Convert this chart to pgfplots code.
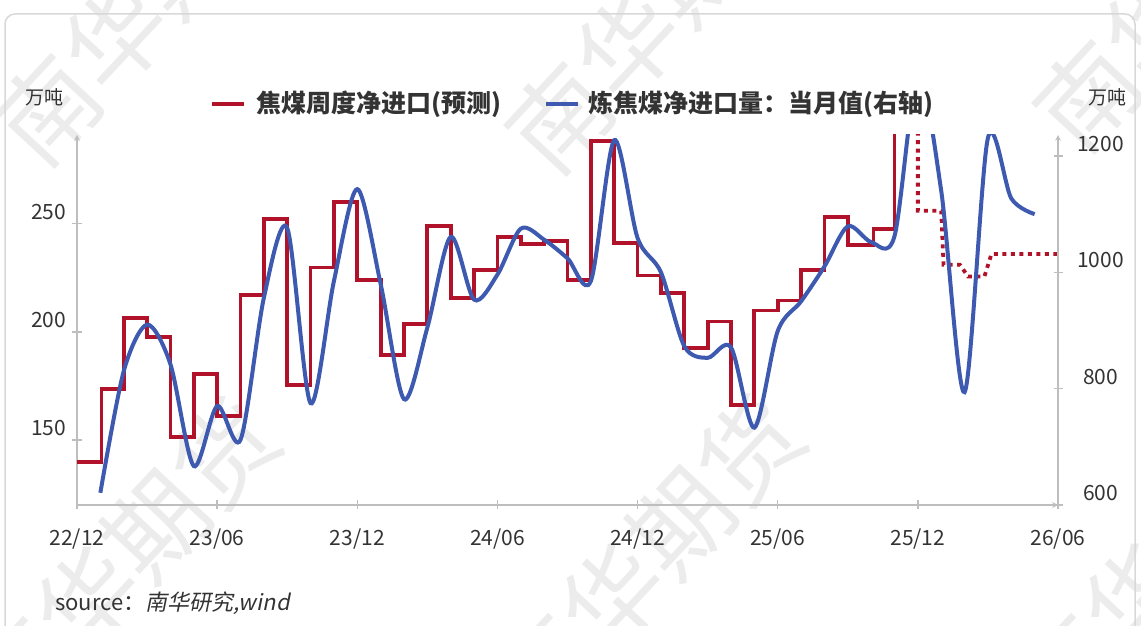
\documentclass[border=0pt]{standalone}
\usepackage{fontspec}
\setmainfont{Noto Sans CJK SC}
\newfontfamily\slantcjk{Noto Sans CJK SC}[FakeSlant=0.2]
\usepackage{pgfplots}
\pgfplotsset{compat=1.18}

\definecolor{nhred}{RGB}{176,18,42}
\definecolor{nhblue}{RGB}{62,90,176}
\definecolor{txt}{RGB}{51,51,51}
\definecolor{axgray}{RGB}{190,190,190}
\definecolor{wmark}{RGB}{236,236,236}

% 焦煤周度净进口(预测), 万吨, 左轴
\pgfplotstableread{
m v
0 140
1.05 173.6
2 206.6
3 197.8
4 151.5
5 180.4
6 161.3
7 217.1
8 252.2
9 175.5
10 229.8
11 260
12 224
13 189.4
14 203.7
15 249.1
16 215.6
17 228.7
18 243.8
19 240.7
20 242.1
21 224.1
22 288.1
23 241.1
24 226.1
25 217.9
26 192.4
27 204.8
28 166.2
29 209.9
30 214.5
31 228.7
32 253.1
33 240
34.1 247.7
35 320
36 320
}\weekly

% 预测段
\pgfplotstableread{
m v
36 320
36 256
37 256
37.1 231
37.8 231
38.15 225.6
38.85 225.6
39.15 236
42 236
}\forecast

% 炼焦煤净进口量: 当月值, 万吨, 右轴
\pgfplotstableread{
m v
1 621
2 830
3 910
4 842
5 667
6 770
7 712
8 956
9 1076
10 775
11 985
12 1143
13 980
14 782
15 905
16 1061
17 953
18 996
19 1075
20 1056
21 1024
22 985
23 1227
24 1059
25 1000
26 873
27 853
28 871
29 733
30 899
31 950
32 1010
33 1079
34 1052
35 1062
36 1340
37 1140
38 794
39 1231
40 1127
41 1100
}\monthly

\pgfplotsset{
  base/.style={
    at={(77pt,121pt)}, anchor=south west,
    width=981pt, height=370pt, scale only axis,
    xmin=0, xmax=42,
    axis line style={draw=axgray, line width=1.5pt, -},
    tick style={draw=axgray, line width=1.3pt},
    major tick length=9pt, tick align=inside,
    ticklabel style={font=\fontsize{21}{21}\selectfont, text=txt},
    /pgf/number format/assume math mode=true,
    /pgf/number format/1000 sep={},
  }
}

\begin{document}
\begin{tikzpicture}
\path[use as bounding box] (0pt,0pt) rectangle (1141pt,626pt);
% watermark
\begin{scope}[every node/.style={text=wmark, rotate=47, font=\fontsize{100}{100}\selectfont}]
\node at (150pt,626pt) {南华期货};
\node at (662pt,618pt) {南华期货};
\node at (1190pt,640pt) {南华期货};
\node at (122pt,63pt) {南华期货};
\node at (647pt,66pt) {南华期货};
\node at (1170pt,66pt) {南华期货};
\end{scope}
\draw[axgray!60, line width=1.5pt, rounded corners=10pt] (5pt,-12pt) -- (5pt,612pt) -- (1135pt,612pt) -- (1135pt,-12pt);

\begin{axis}[base,
  axis x line=bottom, axis y line=left,
  ymin=120, ymax=291,
  ytick={150,200,250},
  xtick={0,6,...,42},
  xticklabels={22/12,23/06,23/12,24/06,24/12,25/06,25/12,26/06},
  xticklabel style={yshift=-16pt},
  yticklabel style={yshift=12pt, xshift=-3pt},
]
\addplot[const plot, nhred, line width=3.8pt] table[x=m, y=v] {\weekly};
\addplot[nhred, line width=3.8pt, dash pattern=on 4pt off 4.5pt] table[x=m, y=v] {\forecast};
\end{axis}

\begin{axis}[base,
  axis x line=none, axis y line=right,
  ymin=600, ymax=1236,
  ytick={600,800,1000,1200},
  yticklabel style={anchor=center, xshift=38pt, yshift=12pt},
]
\addplot[smooth, nhblue, line width=4pt] table[x=m, y=v] {\monthly};
\end{axis}

\node[text=txt, font=\fontsize{19}{19}\selectfont] at (44pt,529pt) {万吨};
\node[text=txt, font=\fontsize{19}{19}\selectfont] at (1107pt,529pt) {万吨};

\draw[nhred, line width=4pt] (212pt,522pt) -- (244pt,522pt);
\node[anchor=west, inner sep=0pt, text=txt, font=\fontsize{25}{25}\selectfont\bfseries] at (256pt,522pt) {焦煤周度净进口(预测)};
\draw[nhblue, line width=4pt] (546pt,522pt) -- (578pt,522pt);
\node[anchor=west, inner sep=0pt, text=txt, font=\fontsize{25}{25}\selectfont\bfseries] at (588pt,522pt) {炼焦煤净进口量：当月值(右轴)};

\node[anchor=west, inner sep=0pt, text=txt, font=\fontsize{22}{22}\selectfont] at (55pt,23pt) {source：{\slantcjk 南华研究,wind}};
\end{tikzpicture}
\end{document}
